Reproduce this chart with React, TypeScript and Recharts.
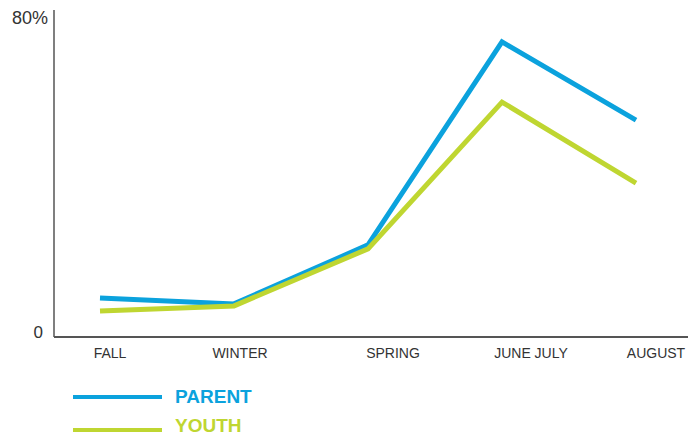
import React from "react";
import { LineChart, Line, XAxis, YAxis } from "recharts";

const categories = ["FALL", "WINTER", "SPRING", "JUNE JULY", "AUGUST"];
const parentValues = [9.8, 8.3, 23.1, 74.0, 54.4];
const youthValues = [6.5, 7.8, 22.1, 58.9, 38.6];
const yTicks = [0, 80];

const series = [
  { key: "parent", name: "PARENT", color: "#0ba2dd" },
  { key: "youth", name: "YOUTH", color: "#bfd631" },
];

const data = categories.map((c, i) => ({
  category: c,
  parent: parentValues[i],
  youth: youthValues[i],
}));

const FONT = "'Liberation Sans', Arial, Helvetica, sans-serif";
const TICK_SHIFT = [10, 6, 25, 29, 20];

const XTick = (props: any) => {
  const { x, y, payload, index } = props;
  return (
    <text
      x={x + (TICK_SHIFT[index] || 0)}
      y={y}
      dy={13}
      textAnchor="middle"
      fontFamily={FONT}
      fontSize={14}
      fill="#333"
    >
      {payload.value}
    </text>
  );
};

const YTick = (props: any) => {
  const { x, y, payload } = props;
  const v = payload.value;
  return (
    <text
      x={v === 0 ? x - 3 : x + 2}
      y={v === 0 ? y - 5 : y}
      dy="0.355em"
      textAnchor="end"
      fontFamily={FONT}
      fontSize={v === 0 ? 17 : 18}
      fill="#333"
    >
      {v === 0 ? "0" : `${v}%`}
    </text>
  );
};

export default function App() {
  return (
    <div style={{ position: "absolute", left: 0, top: 0, width: 688, height: 438, background: "#fff" }}>
      <LineChart
        width={688}
        height={438}
        data={data}
        margin={{ top: 10, right: 0, left: 0, bottom: 71 }}
      >
        <XAxis
          dataKey="category"
          height={30}
          padding={{ left: 46, right: 52 }}
          tickLine={false}
          axisLine={{ stroke: "#555", strokeWidth: 2 }}
          tick={<XTick />}
          interval={0}
        />
        <YAxis
          width={54}
          domain={[0, 82]}
          ticks={yTicks}
          tickLine={false}
          axisLine={{ stroke: "#555", strokeWidth: 1.5 }}
          tick={<YTick />}
        />
        {series.map((s) => (
          <Line
            key={s.key}
            dataKey={s.key}
            name={s.name}
            stroke={s.color}
            strokeWidth={5}
            dot={false}
            activeDot={false}
            strokeLinejoin="miter"
            isAnimationActive={false}
          />
        ))}
      </LineChart>
      <svg width={688} height={70} style={{ position: "absolute", left: 0, top: 368 }}>
        {series.map((s, i) => (
          <g key={s.key}>
            <line x1={73} x2={162} y1={29 + i * 33} y2={29 + i * 33} stroke={s.color} strokeWidth={4} />
            <text
              x={175}
              y={35 + i * 29}
              fontFamily={FONT}
              fontWeight="bold"
              fontSize={19}
              fill={s.color}
            >
              {s.name}
            </text>
          </g>
        ))}
      </svg>
    </div>
  );
}
